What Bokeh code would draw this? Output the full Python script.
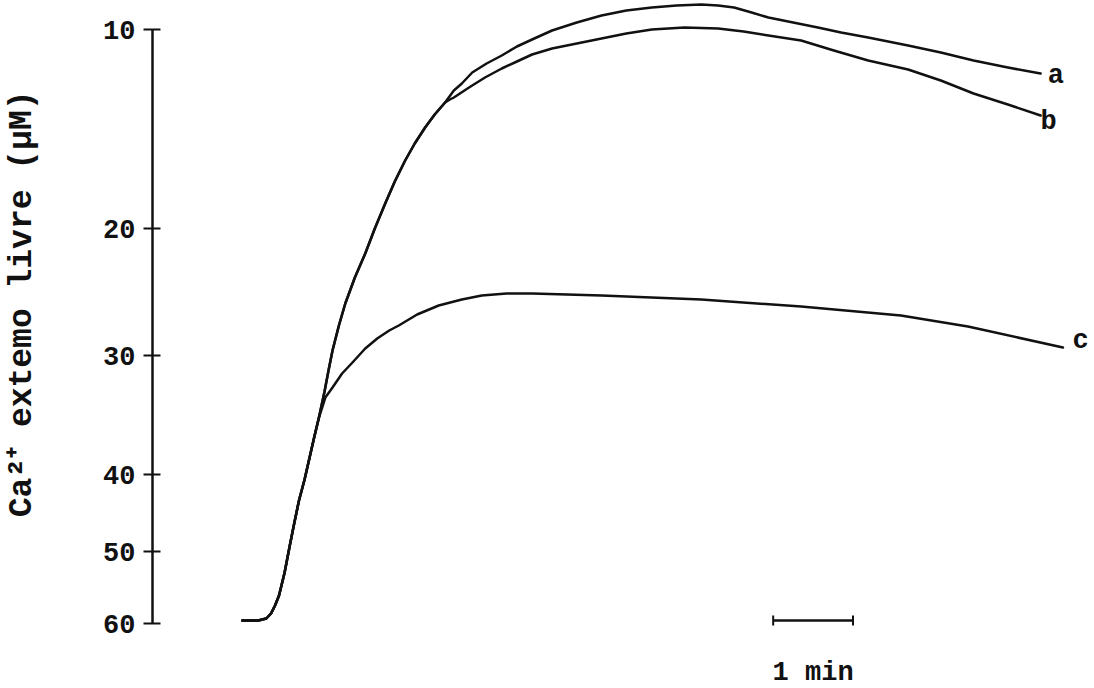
from bokeh.plotting import figure
from bokeh.models import Range1d, FixedTicker, LinearAxis
from bokeh.core.properties import value
from bokeh.embed import file_html
from bokeh.resources import INLINE

# ---- calibration of the recorder trace (signal units) against free Ca2+ (uM)
ca_ticks_uM = [60, 50, 40, 30, 20, 10]
ca_tick_signal = [0, 72, 149, 268, 395, 594]

# ---- shared rising part of the traces (time in min, signal in arb. units)
t_common = [0.00, 0.20, 0.30, 0.36, 0.41, 0.46, 0.53, 0.59, 0.65, 0.71, 0.78, 0.84, 0.90, 0.96]
s_common = [3, 3, 5, 10, 18, 28, 51, 76, 100, 123, 144, 165, 186, 206]

# shared part of a and b after c branches off
t_ab = [1.03, 1.08, 1.13, 1.21, 1.29, 1.41, 1.54, 1.66, 1.79, 1.91, 2.04, 2.16, 2.29, 2.41, 2.54]
s_ab = [232, 253, 273, 298, 320, 346, 370, 395, 420, 442, 463, 480, 496, 509, 521]

# trace a
t_a = [2.65, 2.75, 2.88, 3.06, 3.25, 3.44, 3.63, 3.88, 4.19, 4.50, 4.81, 5.13, 5.44, 5.75,
       5.96, 6.16, 6.38, 6.59, 6.90, 7.21, 7.50, 7.84, 8.34, 8.75, 9.16, 9.59, 10.00]
s_a = [533, 540, 551, 560, 568, 577, 584, 593, 601, 608, 613, 616, 618, 619,
       618, 616, 611, 606, 601, 596, 591, 586, 578, 571, 563, 556, 550]

# trace b
t_b = [2.60, 2.65, 2.84, 3.04, 3.25, 3.44, 3.63, 3.88, 4.19, 4.50, 4.81, 5.13, 5.54, 5.96,
       6.28, 6.59, 7.00, 7.41, 7.84, 8.34, 8.75, 9.16, 9.59, 10.00]
s_b = [524, 526, 536, 546, 555, 562, 569, 575, 580, 585, 590, 594, 596, 595,
       592, 588, 583, 573, 563, 554, 543, 530, 519, 508]

# trace c
t_c = [1.04, 1.13, 1.25, 1.38, 1.54, 1.69, 1.84, 1.96, 2.19, 2.46, 2.75, 3.00, 3.31, 3.63,
       4.50, 5.75, 7.00, 8.25, 9.09, 10.28]
s_c = [226, 236, 250, 261, 275, 285, 293, 298, 309, 318, 324, 328, 330, 330,
       328, 324, 317, 308, 297, 276]

trace_names = ["a", "b", "c"]
label_t = [10.09, 10.00, 10.40]
label_s = [548, 502, 283]

scale_bar_start = 6.65   # min
scale_bar_len = 1.0      # min
scale_bar_level = 3
scale_bar_text = "1 min"

y_title = "Ca²⁺ extemo livre (µM)"

FONT = "Liberation Mono"
INK = "#111111"

p = figure(width=1092, height=686,
           x_range=Range1d(-1.125, 10.65), y_range=Range1d(-63, 623),
           output_backend="svg", toolbar_location=None, x_axis_location=None,
           min_border_left=150, min_border_right=0, min_border_top=0, min_border_bottom=0)
p.grid.visible = False
p.outline_line_color = None
p.background_fill_color = "white"
p.border_fill_color = "white"

ax = p.yaxis[0]
ax.ticker = FixedTicker(ticks=ca_tick_signal)
ax.major_label_overrides = {s: str(v) for s, v in zip(ca_tick_signal, ca_ticks_uM)}
ax.bounds = (min(ca_tick_signal), max(ca_tick_signal))
ax.minor_tick_line_color = None
ax.major_tick_in = 8
ax.major_tick_out = 9
ax.major_tick_line_width = 2
ax.major_tick_line_color = INK
ax.axis_line_width = 2.5
ax.axis_line_color = INK
ax.major_label_standoff = 8
ax.major_label_text_font = FONT
ax.major_label_text_font_size = "27px"
ax.major_label_text_font_style = "bold"
ax.major_label_text_color = INK

# second (label-only) axis carrying the y title; the title sits a little above
# the middle of the figure, so it is padded with no-break spaces at its start
title_axis = LinearAxis(ticker=FixedTicker(ticks=[]),
                        axis_line_color=None, major_tick_line_color=None,
                        minor_tick_line_color=None, major_label_text_font_size="0px",
                        axis_label="\u00a0" * 4 + y_title, axis_label_standoff=60,
                        axis_label_text_font=FONT, axis_label_text_font_size="33px",
                        axis_label_text_font_style="bold", axis_label_text_color=INK)
p.add_layout(title_axis, "left")

lw = 2.5
ta = t_common + t_ab + t_a
sa = s_common + s_ab + s_a
tb = t_common + t_ab + t_b
sb = s_common + s_ab + s_b
tc = t_common + t_c
sc = s_common + s_c
for tt, ss in ((ta, sa), (tb, sb), (tc, sc)):
    p.line(tt, ss, line_width=lw, line_color=INK, line_join="round", line_cap="round")

p.text(x=label_t, y=label_s, text=trace_names, text_font=value(FONT), text_font_size="27px",
       text_font_style="bold", text_color=INK, text_align="left", text_baseline="middle")

# time scale bar
x0 = scale_bar_start
x1 = scale_bar_start + scale_bar_len
p.segment(x0=[x0], y0=[scale_bar_level], x1=[x1], y1=[scale_bar_level], line_width=2.5, line_color=INK)
p.segment(x0=[x0, x1], y0=[scale_bar_level - 5, scale_bar_level - 5],
          x1=[x0, x1], y1=[scale_bar_level + 5, scale_bar_level + 5], line_width=2, line_color=INK)
p.text(x=[(x0 + x1) / 2], y=[-49], text=[scale_bar_text], text_font=value(FONT), text_font_size="27px",
       text_font_style="bold", text_color=INK, text_align="center", text_baseline="middle")

open("out.html", "w").write(file_html(p, INLINE))
